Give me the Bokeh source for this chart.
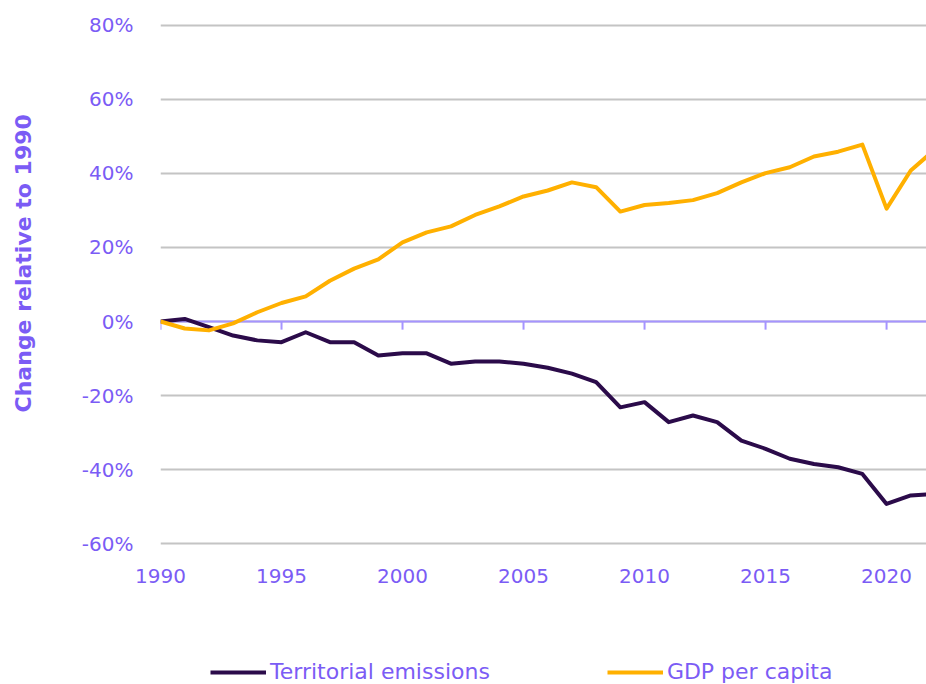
from bokeh.plotting import figure
from bokeh.layouts import column, row
from bokeh.models import (Range1d, FixedTicker, PrintfTickFormatter, Span, Label,
                          Legend, LegendItem)
from bokeh.embed import file_html
from bokeh.resources import INLINE

years = list(range(1990, 2023))
emissions = [0, 0.7, -1.5, -3.8, -5.1, -5.6, -2.9, -5.6, -5.6, -9.2, -8.6, -8.6,
             -11.4, -10.8, -10.8, -11.4, -12.5, -14.1, -16.4, -23.2, -21.8, -27.2,
             -25.4, -27.2, -32.2, -34.4, -37.1, -38.5, -39.4, -41.2, -49.3, -47.0, -46.6]
gdp = [0, -1.9, -2.4, -0.5, 2.5, 5.0, 6.8, 11.0, 14.3, 16.8, 21.4, 24.1, 25.7, 28.8,
       31.1, 33.8, 35.4, 37.6, 36.3, 29.7, 31.5, 32.0, 32.8, 34.7, 37.6, 40.1, 41.7,
       44.6, 45.9, 47.8, 30.5, 40.8, 46.5]
x_ticks = [1990, 1995, 2000, 2005, 2010, 2015, 2020]
y_ticks = [-60, -40, -20, 0, 20, 40, 60, 80]
series_names = ["Territorial emissions", "GDP per capita"]
y_title = "Change  relative to 1990"

PURPLE = "#7B5CF5"
DARK = "#2B0B4A"
AMBER = "#FFB000"
ZERO = "#A594FF"
FONT = "DejaVu Sans"

TOP_H = 644
TITLE_W = 45
FRAME_TOP = 23
FRAME_BOTTOM = 545


def bare(fig):
    fig.axis.visible = False
    fig.grid.visible = False
    fig.outline_line_color = None
    return fig


# ---- main chart ----
p = figure(width=926 - TITLE_W, height=TOP_H, output_backend="svg", toolbar_location=None,
           x_range=Range1d(1990, 2021.65), y_range=Range1d(-60.54, 80.54),
           min_border_left=160 - TITLE_W, min_border_right=0, min_border_top=FRAME_TOP,
           min_border_bottom=TOP_H - FRAME_BOTTOM)
p.outline_line_color = None

p.xaxis.ticker = FixedTicker(ticks=x_ticks)
p.yaxis.ticker = FixedTicker(ticks=y_ticks)
p.yaxis.formatter = PrintfTickFormatter(format="%d%%")
for ax in (p.xaxis[0], p.yaxis[0]):
    ax.axis_line_color = None
    ax.major_tick_line_color = None
    ax.minor_tick_line_color = None
    ax.major_label_text_color = PURPLE
    ax.major_label_text_font = FONT
    ax.major_label_text_font_size = "20px"
p.yaxis.major_label_standoff = 21
p.xaxis.major_label_standoff = 17

p.xgrid.grid_line_color = None
p.ygrid.ticker = FixedTicker(ticks=y_ticks)
p.ygrid.grid_line_color = "#C4C4C4"
p.ygrid.grid_line_width = 2

zero = Span(location=0, dimension="width", line_color=ZERO, line_width=2, level="underlay")
p.add_layout(zero)
p.segment(x0=x_ticks, y0=[0] * len(x_ticks), x1=x_ticks, y1=[-2.2] * len(x_ticks),
          line_color=ZERO, line_width=2)

r1 = p.line(years, emissions, line_color=DARK, line_width=4, line_join="round")
r2 = p.line(years, gdp, line_color=AMBER, line_width=4, line_join="round")

# ---- y title strip (frame aligned with the chart's frame) ----
tfig = bare(figure(width=TITLE_W, height=TOP_H, output_backend="svg", toolbar_location=None,
                   x_range=Range1d(0, 1), y_range=Range1d(0, 1), min_border=0))
tfig.add_layout(Label(x=23, y=FRAME_BOTTOM - 259, x_units="screen", y_units="screen",
                      text=y_title, angle=90, angle_units="deg", text_align="center",
                      text_baseline="middle", text_color=PURPLE, text_font=FONT,
                      text_font_size="22px", text_font_style="bold"))

# ---- legend strip (series drawn out of view; only the legend keys show) ----
lfig = bare(figure(width=926, height=684 - TOP_H, output_backend="svg", toolbar_location=None,
                   x_range=Range1d(0, 1), y_range=Range1d(0, 1), min_border=0))
k1 = lfig.line(years, emissions, line_color=DARK, line_width=4)
k2 = lfig.line(years, gdp, line_color=AMBER, line_width=4)
lg = Legend(items=[LegendItem(label=series_names[0], renderers=[k1]),
                   LegendItem(label=series_names[1], renderers=[k2])],
            location=(210, 0), orientation="horizontal", padding=0, margin=0,
            spacing=117, glyph_width=56, glyph_height=20, label_height=20,
            label_standoff=4, border_line_color=None, background_fill_alpha=0,
            label_text_color=PURPLE, label_text_font=FONT,
            label_text_font_size="22px")
lfig.add_layout(lg)

layout = column(row(tfig, p), lfig)
open("out.html", "w").write(file_html(layout, INLINE))
